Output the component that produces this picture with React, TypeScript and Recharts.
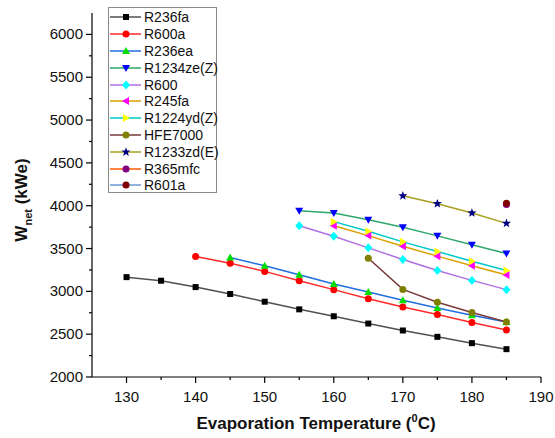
import { LineChart, Line, XAxis, YAxis } from 'recharts'

// evaporation temperature (°C) and net power (kWe) for each working fluid
const r236faT = [130, 135, 140, 145, 150, 155, 160, 165, 170, 175, 180, 185]
const r236faW = [3166, 3124, 3050, 2969, 2879, 2790, 2709, 2624, 2543, 2469, 2395, 2325]
const r600aT = [140, 145, 150, 155, 160, 165, 170, 175, 180, 185]
const r600aW = [3407, 3329, 3233, 3124, 3020, 2914, 2818, 2729, 2636, 2550]
const r236eaT = [145, 150, 155, 160, 165, 170, 175, 180, 185]
const r236eaW = [3395, 3298, 3193, 3085, 2992, 2895, 2806, 2721, 2643]
const r1234zeT = [155, 160, 165, 170, 175, 180, 185]
const r1234zeW = [3942, 3915, 3837, 3748, 3648, 3543, 3442]
const r600T = [155, 160, 165, 170, 175, 180, 185]
const r600W = [3767, 3643, 3508, 3372, 3244, 3128, 3020]
const r245faT = [160, 165, 170, 175, 180, 185]
const r245faW = [3767, 3651, 3527, 3411, 3298, 3190]
const r1224ydT = [160, 165, 170, 175, 180, 185]
const r1224ydW = [3814, 3701, 3578, 3465, 3352, 3244]
const hfe7000T = [165, 170, 175, 180, 185]
const hfe7000W = [3387, 3023, 2872, 2752, 2643]
const r1233zdT = [170, 175, 180, 185]
const r1233zdW = [4116, 4023, 3915, 3794]
const r365mfcT = [185]
const r365mfcW = [4015]
const r601aT = [185]
const r601aW = [4030]

const xTicks = [130, 135, 140, 145, 150, 155, 160, 165, 170, 175, 180, 185, 190]
const yTicks = [2000, 2250, 2500, 2750, 3000, 3250, 3500, 3750, 4000, 4250, 4500, 4750, 5000, 5250, 5500, 5750, 6000]

const font = 'Arial, "Liberation Sans", sans-serif'

type Shape = 'square' | 'circle' | 'up' | 'down' | 'diamond' | 'left' | 'right' | 'star'

const toRows = (t: number[], w: number[]) => t.map((x, i) => ({ t: x, w: w[i] }))

const series = [
  { name: 'R236fa', data: toRows(r236faT, r236faW), line: '#505050', mark: '#000000', shape: 'square' as Shape },
  { name: 'R600a', data: toRows(r600aT, r600aW), line: '#ff2a2a', mark: '#ff0000', shape: 'circle' as Shape },
  { name: 'R236ea', data: toRows(r236eaT, r236eaW), line: '#1f6fe0', mark: '#00dd00', shape: 'up' as Shape },
  { name: 'R1234ze(Z)', data: toRows(r1234zeT, r1234zeW), line: '#2ea86a', mark: '#0000ff', shape: 'down' as Shape },
  { name: 'R600', data: toRows(r600T, r600W), line: '#b070e0', mark: '#00ffff', shape: 'diamond' as Shape },
  { name: 'R245fa', data: toRows(r245faT, r245faW), line: '#d9a000', mark: '#ff00ff', shape: 'left' as Shape },
  { name: 'R1224yd(Z)', data: toRows(r1224ydT, r1224ydW), line: '#00c8c8', mark: '#ffff00', shape: 'right' as Shape },
  { name: 'HFE7000', data: toRows(hfe7000T, hfe7000W), line: '#7a3a3a', mark: '#808000', shape: 'circle' as Shape },
  { name: 'R1233zd(E)', data: toRows(r1233zdT, r1233zdW), line: '#a8a020', mark: '#000080', shape: 'star' as Shape },
  { name: 'R365mfc', data: toRows(r365mfcT, r365mfcW), line: '#ff5a00', mark: '#800080', shape: 'circle' as Shape },
  { name: 'R601a', data: toRows(r601aT, r601aW), line: '#6a9ad0', mark: '#800000', shape: 'circle' as Shape },
]

function Marker({ cx, cy, shape, fill }: { cx: number; cy: number; shape: Shape; fill: string }) {
  if (cx == null || cy == null) return null
  switch (shape) {
    case 'square':
      return <rect x={cx - 3} y={cy - 3} width={6} height={6} fill={fill} />
    case 'circle':
      return <circle cx={cx} cy={cy} r={3.5} fill={fill} />
    case 'up':
      return <polygon points={`${cx},${cy - 4} ${cx + 4},${cy + 3} ${cx - 4},${cy + 3}`} fill={fill} />
    case 'down':
      return <polygon points={`${cx},${cy + 4} ${cx + 4},${cy - 3} ${cx - 4},${cy - 3}`} fill={fill} />
    case 'left':
      return <polygon points={`${cx - 4},${cy} ${cx + 3},${cy - 4} ${cx + 3},${cy + 4}`} fill={fill} />
    case 'right':
      return <polygon points={`${cx + 4},${cy} ${cx - 3},${cy - 4} ${cx - 3},${cy + 4}`} fill={fill} />
    case 'diamond':
      return <polygon points={`${cx},${cy - 4.5} ${cx + 4},${cy} ${cx},${cy + 4.5} ${cx - 4},${cy}`} fill={fill} />
    case 'star': {
      const pts: string[] = []
      for (let i = 0; i < 10; i++) {
        const r = i % 2 === 0 ? 4.8 : 2
        const a = -Math.PI / 2 + (i * Math.PI) / 5
        pts.push(`${cx + r * Math.cos(a)},${cy + r * Math.sin(a)}`)
      }
      return <polygon points={pts.join(' ')} fill={fill} />
    }
  }
  return null
}

function XTick({ x, y, payload }: any) {
  const major = payload.value % 10 === 0
  return (
    <g>
      <line x1={x} y1={y} x2={x} y2={y + (major ? 6 : 3)} stroke="#000" strokeWidth={1.2} />
      {major && (
        <text x={x} y={y + 25} textAnchor="middle" fontSize={15} fontFamily={font} fill="#111">
          {payload.value}
        </text>
      )}
    </g>
  )
}

function YTick({ x, y, payload }: any) {
  const major = payload.value % 500 === 0
  return (
    <g>
      <line x1={x} y1={y} x2={x - (major ? 6 : 3)} y2={y} stroke="#000" strokeWidth={1.2} />
      {major && (
        <text x={x - 9} y={y + 5} textAnchor="end" fontSize={15} fontFamily={font} fill="#111">
          {payload.value}
        </text>
      )}
    </g>
  )
}

function LegendBox() {
  return (
    <div
      style={{
        position: 'absolute', left: 108, top: 7, width: 109, height: 186,
        border: '1px solid #8a8a8a', background: '#fff', fontFamily: font, fontSize: 14,
        color: '#111', boxSizing: 'border-box', paddingTop: 1,
      }}
    >
      {series.map(s => (
        <div key={s.name} style={{ display: 'flex', alignItems: 'center', height: 16.8, whiteSpace: 'nowrap' }}>
          <svg width={34} height={12} style={{ flex: 'none' }}>
            <line x1={1} y1={6} x2={32} y2={6} stroke={s.line} strokeWidth={1.5} />
            <Marker cx={17} cy={6} shape={s.shape} fill={s.mark} />
          </svg>
          <span style={{ marginLeft: 1 }}>{s.name}</span>
        </div>
      ))}
    </div>
  )
}

export default function App() {
  return (
    <div style={{ position: 'absolute', left: 0, top: 0, width: 555, height: 438, background: '#fff' }}>
      <LineChart width={555} height={438} margin={{ top: 13, right: 14, bottom: 31, left: 32 }}>
        <XAxis
          type="number"
          dataKey="t"
          domain={[125, 190]}
          ticks={xTicks}
          interval={0}
          allowDuplicatedCategory={false}
          height={30}
          tickSize={0}
          tickMargin={0}
          tickLine={false}
          tick={<XTick />}
          stroke="#000"
          strokeWidth={1.2}
          label={{
            content: () => (
              <text x={316} y={429} textAnchor="middle" fontSize={17} fontWeight="bold" fontFamily={font} fill="#111">
                Evaporation Temperature (<tspan fontSize={11} dy={-7}>0</tspan>
                <tspan dy={7}>C)</tspan>
              </text>
            ),
          }}
        />
        <YAxis
          type="number"
          dataKey="w"
          domain={[2000, 6250]}
          ticks={yTicks}
          interval={0}
          width={60}
          tickSize={0}
          tickMargin={0}
          tickLine={false}
          tick={<YTick />}
          stroke="#000"
          strokeWidth={1.2}
          label={{
            content: () => (
              <text transform="translate(27,200) rotate(-90)" textAnchor="middle" fontSize={17} fontWeight="bold" fontFamily={font} fill="#111">
                W<tspan fontSize={11} dy={5}>net</tspan>
                <tspan dy={-5}> (kWe)</tspan>
              </text>
            ),
          }}
        />
        {series.map(s => (
          <Line
            key={s.name}
            data={s.data}
            dataKey="w"
            name={s.name}
            type="linear"
            stroke={s.line}
            strokeWidth={1.5}
            isAnimationActive={false}
            dot={(p: any) => <Marker key={`${s.name}-${p.index}`} cx={p.cx} cy={p.cy} shape={s.shape} fill={s.mark} />}
            activeDot={false}
          />
        ))}
      </LineChart>
      <LegendBox />
    </div>
  )
}
